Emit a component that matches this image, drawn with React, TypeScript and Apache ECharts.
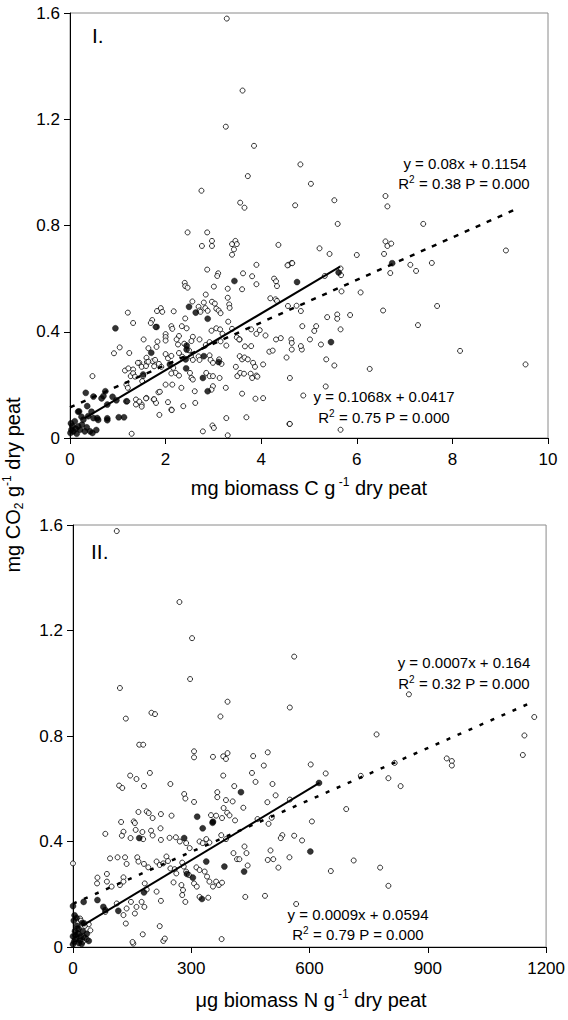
import React, { useEffect, useRef } from "react";
import * as echarts from "echarts";

// ---------- Panel I : biomass C (mg g-1) vs CO2 ----------
const openI: number[][] = [
  [3.28,1.579],[3.61,1.308],[3.26,1.172],[3.85,1.10],[3.72,0.986],[2.75,0.931],[3.56,0.886],[3.65,0.867],
  [4.71,0.876],[4.82,1.03],[5.04,0.957],[5.53,0.895],[5.60,0.806],[6.60,0.911],[6.64,0.872],[7.39,0.806],
  [2.46,0.774],[2.87,0.774],[2.76,0.723],[2.97,0.742],[2.97,0.723],[3.39,0.73],[3.43,0.71],[3.46,0.742],
  [3.49,0.73],[3.39,0.69],[4.36,0.727],[3.90,0.652],[4.57,0.652],[4.64,0.659],[2.87,0.634],[3.10,0.62],
  [3.08,0.61],[3.62,0.62],[3.81,0.609],[2.40,0.584],[2.41,0.572],[2.46,0.566],[3.01,0.57],[3.30,0.562],
  [3.60,0.56],[3.90,0.579],[4.27,0.60],[4.31,0.59],[4.33,0.572],[2.84,0.54],[3.30,0.528],[2.56,0.514],
  [2.80,0.51],[2.97,0.513],[3.03,0.506],[3.33,0.503],[3.34,0.49],[4.19,0.526],[4.30,0.522],[4.33,0.516],
  [4.56,0.497],[1.21,0.472],[1.82,0.478],[1.90,0.489],[1.93,0.475],[2.17,0.477],[2.41,0.45],[2.69,0.494],
  [2.71,0.48],[2.73,0.475],[2.83,0.489],[2.88,0.479],[3.06,0.487],[3.11,0.48],[3.15,0.47],[1.72,0.444],
  [1.69,0.433],[1.32,0.433],[3.31,0.438],[2.12,0.421],[2.14,0.411],[2.34,0.421],[1.79,0.418],[2.00,0.391],
  [2.00,0.38],[2.00,0.367],[2.28,0.384],[2.44,0.413],[2.96,0.404],[3.06,0.413],[3.14,0.409],[3.19,0.392],
  [3.39,0.411],[3.49,0.379],[3.55,0.371],[3.79,0.409],[3.90,0.392],[3.97,0.406],[4.09,0.386],[3.66,0.345],
  [4.31,0.371],[4.41,0.376],[4.63,0.371],[4.64,0.358],[1.04,0.341],[0.92,0.319],[1.54,0.371],[1.81,0.343],
  [2.23,0.371],[2.26,0.352],[2.39,0.355],[2.57,0.381],[2.54,0.365],[2.71,0.371],[2.84,0.35],[2.92,0.361],
  [3.15,0.364],[3.27,0.348],[3.54,0.371],[3.79,0.346],[1.64,0.338],[1.24,0.32],[2.0,0.316],[2.05,0.30],
  [2.12,0.309],[2.28,0.32],[2.35,0.306],[2.49,0.33],[2.53,0.308],[2.57,0.294],[2.69,0.307],[2.71,0.294],
  [2.92,0.311],[2.94,0.294],[2.99,0.283],[3.12,0.296],[3.17,0.279],[3.55,0.308],[3.60,0.296],[3.65,0.303],
  [3.72,0.296],[3.83,0.283],[4.04,0.277],[1.60,0.302],[1.61,0.286],[1.45,0.283],[1.73,0.289],[1.76,0.27],
  [1.86,0.279],[1.91,0.268],[1.15,0.254],[1.32,0.258],[1.27,0.233],[0.47,0.233],[1.53,0.233],[1.51,0.214],
  [2.16,0.264],[2.21,0.245],[2.12,0.243],[2.28,0.235],[2.51,0.245],[2.54,0.226],[2.57,0.22],[2.85,0.245],
  [2.92,0.233],[2.99,0.233],[3.13,0.226],[3.50,0.233],[3.56,0.245],[3.64,0.242],[3.78,0.242],[3.81,0.226],
  [3.90,0.235],[1.18,0.201],[1.21,0.189],[1.20,0.138],[1.38,0.145],[1.38,0.126],[1.50,0.126],[1.60,0.151],
  [1.75,0.145],[1.80,0.132],[1.85,0.172],[2.0,0.201],[2.14,0.201],[2.33,0.189],[2.37,0.12],[2.05,0.135],
  [2.12,0.107],[2.61,0.176],[2.62,0.132],[2.99,0.195],[2.96,0.182],[3.26,0.189],[3.60,0.167],[3.88,0.148],
  [4.04,0.15],[2.98,0.047],[3.01,0.038],[2.78,0.025],[3.27,0.075],[3.30,0.01],[3.69,0.078],[1.29,0.016],
  [4.59,0.053],[1.22,0.262],[1.32,0.244],[1.36,0.231],[1.42,0.283],[1.50,0.268],[1.59,0.271],[1.64,0.287],
  [1.78,0.294],[1.83,0.363],[1.45,0.137],[1.50,0.118],[1.59,0.149],[1.76,0.146],[1.88,0.174],[1.87,0.087],
  [2.13,0.105],[4.17,0.325],[4.24,0.329],[3.47,0.268],[3.87,0.268],[3.92,0.231],
  [5.22,0.714],[5.43,0.693],[6.0,0.689],[6.60,0.74],[6.64,0.723],[6.72,0.732],[6.57,0.693],[9.12,0.706],
  [4.55,0.65],[4.65,0.658],[7.12,0.652],[7.57,0.659],[7.24,0.629],[6.70,0.621],[5.66,0.638],[5.67,0.613],
  [5.33,0.61],[5.68,0.552],[6.08,0.548],[4.74,0.498],[4.83,0.478],[6.55,0.48],[7.68,0.497],[5.38,0.455],
  [5.59,0.465],[5.59,0.449],[5.86,0.463],[4.86,0.421],[5.15,0.421],[5.11,0.403],[5.66,0.409],[7.28,0.425],
  [4.64,0.333],[4.85,0.333],[4.83,0.346],[5.02,0.371],[5.25,0.352],[4.53,0.303],[5.36,0.296],[5.53,0.273],
  [6.27,0.26],[8.16,0.328],[9.53,0.277],[4.60,0.226],[5.35,0.194],[4.88,0.16],[4.60,0.053],[5.66,0.031]
];
const filledI: number[][] = [
  [0.95,0.413],[1.81,0.418],[2.49,0.494],[2.63,0.472],[2.88,0.449],[3.44,0.591],[4.75,0.587],[5.62,0.623],
  [6.74,0.658],[5.46,0.361],[1.70,0.321],[1.53,0.239],[2.09,0.277],[2.44,0.333],[2.44,0.348],[2.42,0.296],
  [2.80,0.308],[3.11,0.286],[2.78,0.226],[2.88,0.176],[0.33,0.17],[0.74,0.176],[0.89,0.155],[0.97,0.142],
  [0.78,0.126],[1.18,0.138],[1.02,0.078],[1.13,0.078],[0.78,0.074],[0.78,0.067],[0.19,0.10],[0.36,0.12],
  [0.28,0.069],[0.38,0.082],[0.49,0.075],[0.10,0.063],[0.17,0.044],[0.03,0.031],[0.01,0.019],[0.07,0.025],
  [0.21,0.031],[0.31,0.025],[0.42,0.025],[0.47,0.019],[0.14,0.016],[0.57,0.075],[0.49,0.156],[0.66,0.149],
  [0.70,0.158],[0.17,0.099],[0.24,0.08],[0.45,0.099],[0.59,0.068],[0.05,0.045],[0.12,0.035],[0.25,0.05],
  [0.35,0.04],[0.55,0.03],[0.02,0.055],[2.43,0.262]
];
// fitted lines, end points
const fitFilledI: number[][] = [[0.3, 0.074], [5.65, 0.645]];
const fitOpenI: number[][] = [[0, 0.115], [9.4, 0.867]];

// ---------- Panel II : biomass N (ug g-1) vs CO2 ----------
const openII: number[][] = [
  [111,1.577],[270,1.308],[302,1.171],[297,1.016],[119,0.982],[134,0.866],[199,0.888],[208,0.883],
  [374,0.874],[392,0.93],[550,0.908],[561,1.101],[852,0.958],[770,0.806],[1170,0.872],[1145,0.802],
  [1141,0.728],[948,0.715],[961,0.705],[961,0.688],[168,0.767],[178,0.767],[307,0.742],[307,0.719],
  [355,0.721],[381,0.723],[392,0.735],[388,0.713],[457,0.724],[494,0.738],
  [603,0.692],[641,0.658],[730,0.649],[816,0.698],[800,0.64],[831,0.61],[550,0.559],[693,0.523],
  [606,0.476],[581,0.404],[549,0.34],[654,0.288],[712,0.328],[779,0.301],[800,0.232],[566,0.163],
  [484,0.688],[145,0.65],[161,0.637],[195,0.66],[117,0.612],[125,0.603],[180,0.61],[247,0.618],
  [381,0.65],[454,0.66],[463,0.626],[506,0.618],[514,0.575],[493,0.549],[282,0.58],[285,0.563],
  [307,0.55],[366,0.587],[366,0.568],[388,0.557],[409,0.61],[405,0.552],[432,0.528],[166,0.512],
  [187,0.514],[192,0.508],[202,0.489],[154,0.476],[157,0.47],[223,0.504],[250,0.498],[122,0.474],
  [176,0.436],[198,0.441],[222,0.45],[245,0.414],[382,0.527],[391,0.509],[397,0.499],[350,0.5],
  [363,0.498],[378,0.489],[411,0.48],[82,0.429],[128,0.437],[124,0.422],[146,0.413],[159,0.444],
  [178,0.409],[202,0.423],[223,0.406],[261,0.416],[271,0.4],[287,0.394],[296,0.375],[321,0.4],
  [329,0.394],[338,0.409],[346,0.396],[376,0.424],[388,0.409],[435,0.381],[440,0.356],[407,0.356],
  [416,0.333],[422,0.333],[443,0.309],[494,0.33],[508,0.333],[501,0.366],[521,0.301],[561,0.422],
  [531,0.424],[527,0.413],[468,0.485],[496,0.467],[504,0.49],[0,0.317],[94,0.336],[113,0.34],
  [132,0.34],[136,0.315],[163,0.34],[166,0.324],[180,0.315],[191,0.302],[212,0.324],[220,0.311],
  [229,0.317],[237,0.343],[241,0.326],[247,0.298],[258,0.295],[262,0.279],[277,0.32],[281,0.305],
  [287,0.286],[294,0.273],[313,0.302],[321,0.292],[334,0.286],[340,0.267],[346,0.248],[355,0.229],
  [363,0.248],[370,0.235],[378,0.244],[307,0.241],[314,0.229],[275,0.235],[279,0.216],[277,0.197],
  [285,0.171],[255,0.245],[212,0.21],[223,0.175],[182,0.241],[187,0.218],[174,0.171],[181,0.152],
  [157,0.127],[147,0.171],[161,0.152],[136,0.146],[111,0.165],[82,0.133],[62,0.263],[61,0.241],
  [86,0.277],[86,0.248],[98,0.229],[128,0.264],[128,0.248],[119,0.235],[128,0.121],[134,0.089],
  [177,0.048],[153,0.013],[151,0.019],[229,0.023],[233,0.032],[220,0.079],[377,0.03],[321,0.19],
  [343,0.187],[437,0.19],[487,0.194],[18,0.108],[40,0.086],[44,0.063],[27,0.04],[5,0.03],[15,0.05],
  [25,0.02],[10,0.07],[30,0.08],[35,0.03],[20,0.1]
];
const filledII: number[][] = [
  [168,0.413],[282,0.413],[329,0.45],[315,0.494],[355,0.475],[426,0.587],[624,0.622],[602,0.362],
  [289,0.277],[304,0.263],[338,0.324],[384,0.305],[434,0.286],[327,0.182],[180,0.207],[115,0.137],
  [77,0.152],[82,0.14],[62,0.178],[27,0.171],[0,0.155],[23,0.091],[40,0.023],[354,0.471],
  [3,0.02],[8,0.03],[12,0.05],[5,0.06],[15,0.015],[20,0.04],[25,0.06],[10,0.08],[2,0.1],[18,0.025],
  [30,0.035],[6,0.045],[14,0.07],[0,0.01],[22,0.012],[35,0.05],[28,0.09],[4,0.12],[9,0.11],[0,0.04]
];
const fitFilledII: number[][] = [[25, 0.082], [625, 0.622]];
const fitOpenII: number[][] = [[0, 0.164], [1160, 0.925]];

const xTicksI = { min: 0, max: 10, interval: 2 };
const xTicksII = { min: 0, max: 1200, interval: 300 };
const yTicks = { min: 0, max: 1.6, interval: 0.4 };

const FONT = "Liberation Sans, Arial, sans-serif";

export default function App() {
  const ref = useRef<HTMLDivElement>(null);
  useEffect(() => {
    document.body.style.margin = "0";
    if (!ref.current) return;
    const chart = echarts.init(ref.current, undefined, { renderer: "svg" });

    const axisCommon = {
      type: "value" as const,
      axisLine: { show: true, onZero: false, lineStyle: { color: "#000", width: 1 } },
      axisTick: { show: true, length: 6, lineStyle: { color: "#000", width: 1 } },
      splitLine: { show: false },
    };
    const fmt = (v: number) => String(Math.round(v * 100) / 100);
    const xLabel = { color: "#000", fontSize: 17, fontFamily: FONT, margin: 13, formatter: fmt };
    const yLabel = { color: "#000", fontSize: 17, fontFamily: FONT, margin: 10, formatter: fmt };

    const openStyle = { color: "#fff", borderColor: "#000", borderWidth: 1 };
    const filledStyle = { color: "#000", borderColor: "#000", borderWidth: 0.5 };

    const rich = {
      n: { fontSize: 20, fontFamily: FONT, color: "#000", lineHeight: 24 },
      sup: { fontSize: 12, fontFamily: FONT, color: "#000", verticalAlign: "top", lineHeight: 14 },
      sub: { fontSize: 12, fontFamily: FONT, color: "#000", verticalAlign: "bottom", lineHeight: 14 },
    };
    const annRich = {
      a: { fontSize: 15, fontFamily: FONT, color: "#000", lineHeight: 18 },
      s: { fontSize: 10, fontFamily: FONT, color: "#000", verticalAlign: "top", lineHeight: 12 },
    };
    const ann = (x: number, y: number, text: string) => ({
      type: "text",
      x,
      y,
      style: { text, rich: annRich, align: "center", verticalAlign: "middle" },
    });

    const option: any = {
      animation: false,
      backgroundColor: "#fff",
      grid: [
        { left: 70, top: 13, width: 478, height: 425, show: true, borderColor: "#8a8a8a", borderWidth: 1 },
        { left: 73, top: 525, width: 476, height: 422, show: true, borderColor: "#8a8a8a", borderWidth: 1 },
      ],
      xAxis: [
        { ...axisCommon, gridIndex: 0, ...xTicksI, axisLabel: xLabel },
        { ...axisCommon, gridIndex: 1, ...xTicksII, axisLabel: xLabel },
      ],
      yAxis: [
        { ...axisCommon, gridIndex: 0, ...yTicks, axisLabel: yLabel },
        { ...axisCommon, gridIndex: 1, ...yTicks, axisLabel: yLabel },
      ],
      series: [
        { type: "scatter", xAxisIndex: 0, yAxisIndex: 0, data: openI, symbol: "circle", symbolSize: 5, itemStyle: openStyle },
        { type: "scatter", xAxisIndex: 0, yAxisIndex: 0, data: filledI, symbol: "circle", symbolSize: 6, itemStyle: filledStyle },
        { type: "line", xAxisIndex: 0, yAxisIndex: 0, data: fitOpenI, showSymbol: false, lineStyle: { color: "#000", width: 2.5, type: [5, 7] } },
        { type: "line", xAxisIndex: 0, yAxisIndex: 0, data: fitFilledI, showSymbol: false, lineStyle: { color: "#000", width: 2, type: "solid" } },
        { type: "scatter", xAxisIndex: 1, yAxisIndex: 1, data: openII, symbol: "circle", symbolSize: 5, itemStyle: openStyle },
        { type: "scatter", xAxisIndex: 1, yAxisIndex: 1, data: filledII, symbol: "circle", symbolSize: 6, itemStyle: filledStyle },
        { type: "line", xAxisIndex: 1, yAxisIndex: 1, data: fitOpenII, showSymbol: false, lineStyle: { color: "#000", width: 2.5, type: [4, 8] } },
        { type: "line", xAxisIndex: 1, yAxisIndex: 1, data: fitFilledII, showSymbol: false, lineStyle: { color: "#000", width: 2, type: "solid" } },
      ],
      graphic: [
        {
          type: "text",
          x: 13,
          y: 485,
          rotation: Math.PI / 2,
          style: { text: "{n|mg CO}{sub|2}{n| g}{sup|-1}{n| dry peat}", rich, align: "center", verticalAlign: "middle" },
        },
        {
          type: "text",
          x: 309,
          y: 488,
          style: { text: "{n|mg biomass C g}{sup| -1}{n| dry peat}", rich, align: "center", verticalAlign: "middle" },
        },
        {
          type: "text",
          x: 311,
          y: 1000,
          style: { text: "{n|\u03bcg biomass N g}{sup| -1}{n| dry peat}", rich, align: "center", verticalAlign: "middle" },
        },
        { type: "text", x: 92, y: 35, style: { text: "I.", fontSize: 21, fontFamily: FONT, fill: "#000", verticalAlign: "middle" } },
        { type: "text", x: 91, y: 551, style: { text: "II.", fontSize: 21, fontFamily: FONT, fill: "#000", verticalAlign: "middle" } },
        ann(465, 163, "{a|y = 0.08x + 0.1154}"),
        ann(464, 183, "{a|R}{s|2}{a| = 0.38 P = 0.000}"),
        ann(384, 396, "{a|y = 0.1068x + 0.0417}"),
        ann(384, 417, "{a|R}{s|2}{a| = 0.75 P = 0.000}"),
        ann(464, 662, "{a|y = 0.0007x + 0.164}"),
        ann(464, 683, "{a|R}{s|2}{a| = 0.32 P = 0.000}"),
        ann(358, 914, "{a|y = 0.0009x + 0.0594}"),
        ann(358, 934, "{a|R}{s|2}{a| = 0.79 P = 0.000}"),
      ],
    };
    chart.setOption(option);
    return () => chart.dispose();
  }, []);
  return <div ref={ref} style={{ width: 568, height: 1020 }} />;
}
